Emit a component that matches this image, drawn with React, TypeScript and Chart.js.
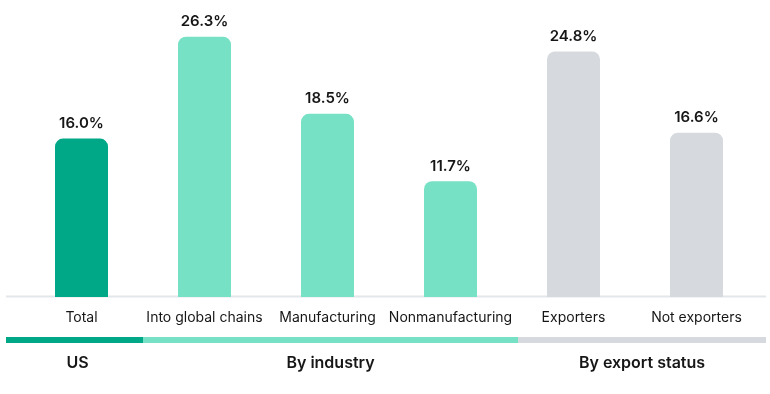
import React, { useEffect, useRef } from "react";
import { Chart, registerables } from "chart.js";

Chart.register(...registerables);

const categories = ["Total", "Into global chains", "Manufacturing", "Nonmanufacturing", "Exporters", "Not exporters"];
const values = [16.0, 26.3, 18.5, 11.7, 24.8, 16.6];
const barColors = ["#00a887", "#76e1c4", "#76e1c4", "#76e1c4", "#d6d9de", "#d6d9de"];
const groupNames = ["US", "By industry", "By export status"];
const groupStart = [0, 1, 4];
const groupEnd = [0, 3, 5];
const groupColors = ["#00a887", "#76e1c4", "#d6d9de"];

const FONT = "Inter, 'Noto Sans', sans-serif";
const TEXT = "#161616";

const decorPlugin = {
  id: "decor",
  beforeDatasetsDraw(chart: any) {
    const { ctx, chartArea } = chart;
    ctx.save();
    ctx.fillStyle = "#e3e6ea";
    ctx.fillRect(6, chartArea.bottom - 1.5, 760, 2);
    ctx.restore();
  },
  afterDatasetsDraw(chart: any) {
    const { ctx, chartArea } = chart;
    const x = chart.scales.x;
    const meta = chart.getDatasetMeta(0);
    ctx.save();
    // value labels
    ctx.font = `600 15px ${FONT}`;
    ctx.fillStyle = TEXT;
    ctx.textAlign = "center";
    ctx.textBaseline = "middle";
    meta.data.forEach((bar: any, i: number) => {
      ctx.fillText(values[i].toFixed(1) + "%", bar.x, bar.y - 15);
    });
    // category labels
    ctx.font = `400 14px ${FONT}`;
    categories.forEach((c, i) => {
      ctx.fillText(c, x.getPixelForValue(i), chartArea.bottom + 21);
    });
    // group bands
    const step = x.getPixelForValue(1) - x.getPixelForValue(0);
    const bounds: number[] = [];
    groupStart.forEach((s, gi) => {
      const e = groupEnd[gi];
      let left = gi === 0 ? 6 : x.getPixelForValue(s) - step / 2;
      let right = gi === groupStart.length - 1 ? 766 : x.getPixelForValue(e) + step / 2;
      if (gi === 2) left += 6;
      if (gi === 1) right += 6;
      bounds.push(left, right);
      ctx.fillStyle = groupColors[gi];
      ctx.fillRect(left, chartArea.bottom + 40, right - left, 6);
      ctx.fillStyle = TEXT;
      ctx.font = `600 16px ${FONT}`;
      ctx.fillText(groupNames[gi], (left + right) / 2 + (gi === 0 ? 3 : 0), chartArea.bottom + 66);
    });
    ctx.restore();
  },
};

export default function App() {
  const ref = useRef<HTMLCanvasElement>(null);
  useEffect(() => {
    if (!ref.current) return;
    const chart = new Chart(ref.current, {
      type: "bar",
      data: {
        labels: categories,
        datasets: [
          {
            data: values,
            backgroundColor: barColors,
            borderRadius: 8,
            borderSkipped: "bottom",
            categoryPercentage: 1,
            barPercentage: 53 / 123,
          },
        ],
      },
      options: {
        animation: false,
        responsive: false,
        maintainAspectRatio: false,
        layout: { padding: { left: 20, right: 12, top: 0, bottom: 97 } },
        plugins: { legend: { display: false }, tooltip: { enabled: false } },
        scales: {
          x: { display: false },
          y: { display: false, min: 0, max: 30 },
        },
      },
      plugins: [decorPlugin],
    });
    return () => chart.destroy();
  }, []);
  return (
    <div style={{ position: "fixed", left: 0, top: 0, width: 770, height: 394, background: "#fff" }}>
      <canvas ref={ref} width={770} height={394} style={{ width: 770, height: 394 }} />
    </div>
  );
}
